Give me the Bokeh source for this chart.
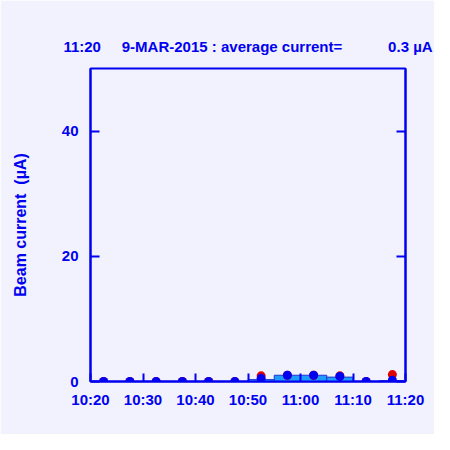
import pandas as pd
from bokeh.plotting import figure
from bokeh.models import FixedTicker, DatetimeTickFormatter, LinearAxis, Range1d
from bokeh.embed import file_html
from bokeh.resources import INLINE

# ---- data ----
point_times = ["10:22:30", "10:27:30", "10:32:30", "10:37:30", "10:42:30", "10:47:30",
               "10:52:30", "10:57:30", "11:02:30", "11:07:30", "11:12:30", "11:17:30"]
blue_values = [0.0, 0.0, 0.0, 0.0, 0.0, 0.0, 0.5, 1.0, 1.0, 0.8, 0.0, 0.2]
red_values = [0.0, 0.0, 0.0, 0.0, 0.0, 0.0, 0.9, 1.0, 1.0, 0.9, 0.0, 1.1]
bar_starts = ["10:20", "10:25", "10:30", "10:35", "10:40", "10:45",
              "10:50", "10:55", "11:00", "11:05", "11:10", "11:15"]
bar_ends = ["10:25", "10:30", "10:35", "10:40", "10:45", "10:50",
            "10:55", "11:00", "11:05", "11:10", "11:15", "11:20"]
bar_values = [0.0, 0.0, 0.0, 0.0, 0.0, 0.0, 0.3, 1.0, 1.0, 0.7, 0.0, 0.15]
x_ticks = ["10:20", "10:30", "10:40", "10:50", "11:00", "11:10", "11:20"]
y_ticks = [0, 20, 40]
y_max = 50
date = "2015-03-09 "
NB = "\u00a0"
title_text = "11:20" + NB * 5 + "9-MAR-2015 : average current=" + NB * 11 + "0.3 \u00b5A"
y_label = "Beam current" + NB * 2 + "(\u00b5A)"

def ts(s):
    return pd.Timestamp(date + s)

pt = [ts(t) for t in point_times]
bl = [ts(t) for t in bar_starts]
br = [ts(t) for t in bar_ends]
xt = [ts(t).value / 1e6 for t in x_ticks]

BLUE = "#0000F0"
BG = "#F2F2FF"
FONT = "Liberation Sans"

p = figure(width=434, height=434, x_axis_type="datetime",
           x_range=Range1d(ts(x_ticks[0]), ts(x_ticks[-1])),
           y_range=Range1d(0, y_max),
           output_backend="svg", toolbar_location=None,
           min_border_left=90, min_border_right=29, min_border_top=68, min_border_bottom=53)

p.background_fill_color = BG
p.border_fill_color = BG
p.outline_line_color = BLUE
p.outline_line_width = 2
p.grid.visible = False

p.title.text = title_text
p.title.align = "center"
p.title.text_color = BLUE
p.title.text_font = FONT
p.title.text_font_size = "15px"
p.title.text_font_style = "bold"
p.title.standoff = 27

p.quad(left=bl, right=br, bottom=0, top=bar_values,
       fill_color="#1E9BFF", line_color="#2233CC", line_width=1)
p.scatter(pt, red_values, size=9, color="#E00000", line_width=0)
p.scatter(pt, blue_values, size=9, color=BLUE, line_width=0)

xa = p.xaxis[0]
xa.ticker = FixedTicker(ticks=xt)
xa.formatter = DatetimeTickFormatter(minutes="%H:%M", hours="%H:%M", hourmin="%H:%M", minsec="%H:%M")
xa.major_tick_in = 8
xa.major_tick_out = 0
xa.minor_tick_line_color = None
xa.major_label_standoff = 9

ya = p.yaxis[0]
ya.ticker = FixedTicker(ticks=y_ticks)
ya.major_tick_in = 9
ya.major_tick_out = 0
ya.minor_tick_line_color = None
ya.major_label_standoff = 12
ya.axis_label = y_label
ya.axis_label_standoff = 30
ya.axis_label_text_font_size = "16px"
ya.axis_label_text_font_style = "bold"
ya.axis_label_text_font = FONT
ya.axis_label_text_color = BLUE

ra = LinearAxis(ticker=FixedTicker(ticks=y_ticks))
ra.major_tick_in = 9
ra.major_tick_out = 0
ra.minor_tick_line_color = None
ra.major_label_overrides = {t: "" for t in y_ticks}
p.add_layout(ra, "right")

for ax in [xa, ya, ra]:
    ax.axis_line_color = BLUE
    ax.axis_line_width = 2
    ax.major_tick_line_color = BLUE
    ax.major_tick_line_width = 2
    ax.major_label_text_color = BLUE
    ax.major_label_text_font = FONT
    ax.major_label_text_font_size = "15px"
    ax.major_label_text_font_style = "bold"

html = file_html(p, INLINE)
html = html.replace("<body>", '<body style="background-color:%s;">' % BG, 1)
open("out.html", "w").write(html)
